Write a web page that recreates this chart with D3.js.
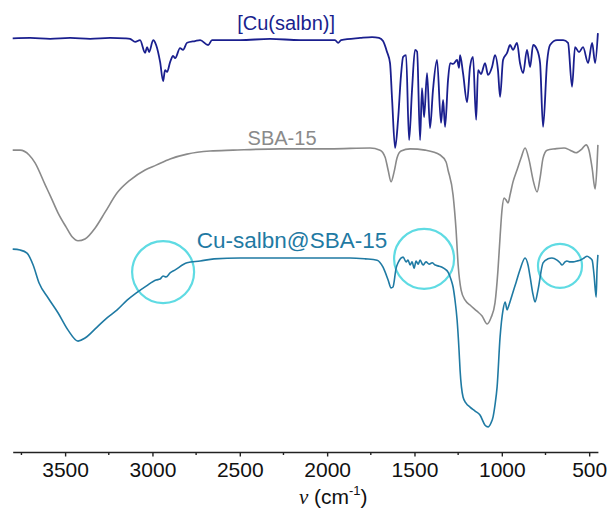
<!DOCTYPE html>
<html>
<head>
<meta charset="utf-8">
<script src="https://cdn.jsdelivr.net/npm/d3@7"></script>
<style>
  body { margin: 0; background: #fff; }
  text { font-family: "Liberation Sans", Arial, sans-serif; }
</style>
</head>
<body>
<div id="chart"></div>
<script>
// --- spectra: [wavenumber (cm-1), transmittance (a.u., stacked)] ---
const cuSalbn = [
  [3800,94.0],[3700,94.1],[3586,93.9],[3471,94.1],[3357,93.9],[3242,94.1],[3157,94.0],[3128,93.9],
  [3099,93.2],[3071,93.6],[3042,90.7],[3031,92.0],[3019,90.9],[2996,93.6],[2979,92.5],[2956,88.6],
  [2939,84.3],[2928,86.8],[2916,86.4],[2899,88.6],[2882,90.0],[2870,89.5],[2842,91.8],[2825,91.4],
  [2802,93.0],[2756,93.4],[2727,93.6],[2681,92.5],[2659,93.6],[2498,93.6],[2327,93.9],[2155,93.6],
  [1955,93.6],[1937,93.0],[1920,93.6],[1811,94.1],[1743,94.3],[1703,94.1],[1680,93.4],[1657,90.9],
  [1640,88.4],[1628,80.0],[1611,69.1],[1594,75.5],[1577,85.7],[1565,89.8],[1548,90.2],[1531,70.9],
  [1514,82.3],[1497,91.4],[1485,91.0],[1468,70.9],[1457,82.7],[1445,76.1],[1428,86.1],[1411,73.6],
  [1394,82.3],[1371,89.1],[1348,74.8],[1336,80.0],[1325,73.9],[1308,84.5],[1296,88.4],[1279,88.2],
  [1256,89.1],[1245,87.3],[1239,90.2],[1222,86.1],[1199,79.5],[1182,87.5],[1165,89.8],[1147,75.5],
  [1136,86.8],[1119,85.9],[1096,88.4],[1079,85.7],[1056,87.5],[1039,90.2],[1022,86.8],[1010,80.7],
  [993,89.1],[970,90.7],[953,92.5],[936,91.4],[913,93.0],[896,88.4],[878,86.1],[856,91.4],
  [838,87.5],[821,92.5],[798,91.4],[781,88.4],[764,73.9],[741,88.6],[724,92.5],[684,93.6],
  [649,93.6],[621,93.0],[598,83.0],[581,92.0],[558,90.9],[535,92.0],[506,88.4],[483,93.0],
  [466,88.4],[450,95.2]
];

const sba15 = [
  [3800,68.6],[3758,68.6],[3706,67.5],[3672,65.7],[3614,60.7],[3582,58.0],[3540,54.3],[3494,51.1],
  [3460,48.9],[3426,48.0],[3386,48.4],[3328,50.9],[3271,54.5],[3202,58.9],[3128,61.8],[3042,64.1],
  [2979,65.2],[2899,66.6],[2802,67.7],[2670,68.4],[2538,68.6],[2269,68.9],[1983,68.9],[1754,69.1],
  [1697,68.6],[1668,67.0],[1651,64.1],[1634,61.4],[1617,63.6],[1600,66.8],[1577,68.4],[1525,68.9],
  [1439,68.6],[1353,67.5],[1319,65.9],[1308,64.1],[1279,58.4],[1262,50.5],[1250,42.5],[1233,36.8],
  [1210,34.5],[1182,33.4],[1142,32.0],[1113,30.9],[1084,29.1],[1062,30.5],[1039,33.9],[1022,41.4],
  [1010,48.9],[999,55.0],[987,57.7],[976,57.3],[964,56.6],[953,58.4],[936,61.4],[913,64.1],
  [890,66.8],[867,69.1],[844,66.4],[821,61.8],[798,59.1],[781,62.3],[764,66.8],[741,68.6],
  [695,68.9],[644,69.1],[609,68.6],[575,68.0],[541,68.9],[518,69.8],[501,68.6],[483,64.5],
  [466,59.8],[455,65.2],[450,69.8]
];

const cuSalbnSba = [
  [3800,46.1],[3758,45.9],[3718,45.2],[3683,42.5],[3649,38.4],[3597,35.0],[3540,31.6],[3483,27.7],
  [3426,25.2],[3386,25.9],[3317,28.4],[3260,30.5],[3202,32.3],[3145,34.5],[3094,36.1],[3036,37.7],
  [2979,39.1],[2956,39.3],[2939,40.0],[2922,39.8],[2899,40.7],[2870,41.4],[2802,43.0],[2727,43.4],
  [2647,43.9],[2498,44.1],[2315,44.1],[2098,44.1],[1869,44.1],[1783,43.9],[1714,43.6],[1680,42.0],
  [1651,39.1],[1634,37.3],[1623,37.5],[1605,41.8],[1594,43.0],[1565,44.3],[1548,43.2],[1537,43.6],
  [1525,42.5],[1514,43.2],[1502,41.8],[1491,43.4],[1479,42.7],[1468,43.6],[1451,42.5],[1434,43.2],
  [1416,42.7],[1399,43.0],[1382,42.5],[1365,42.3],[1342,42.0],[1319,41.4],[1308,40.9],[1290,39.1],
  [1279,37.5],[1268,34.5],[1256,30.0],[1245,23.2],[1239,18.6],[1222,12.5],[1205,11.1],[1182,10.2],
  [1153,9.3],[1125,8.4],[1096,6.1],[1079,5.7],[1062,6.6],[1050,8.0],[1039,10.7],[1027,14.8],
  [1010,26.1],[993,32.3],[981,34.1],[970,32.3],[959,33.4],[941,35.7],[918,38.6],[896,41.4],
  [867,44.1],[850,42.5],[838,39.8],[821,35.7],[810,34.1],[793,36.8],[764,43.0],[736,43.9],
  [713,44.1],[684,43.6],[667,43.0],[655,42.5],[638,43.2],[627,43.4],[609,43.2],[592,43.2],
  [569,43.4],[552,43.6],[529,44.1],[512,44.5],[495,44.1],[483,43.6],[472,40.2],[460,35.2],
  [455,41.4],[450,44.8]
];

const majorTicks = [3500, 3000, 2500, 2000, 1500, 1000, 500];
const minorTicks = [3750, 3250, 2750, 2250, 1750, 1250, 750];

const seriesNames = ["[Cu(salbn)]", "SBA-15", "Cu-salbn@SBA-15"];
// label anchor in data units: [wavenumber, transmittance]
const labelAnchors = [[2235, 95.8], [2258, 69.8], [2201, 46.4]];
// highlighted regions on Cu-salbn@SBA-15: [wavenumber, transmittance]
const highlightCenters = [[2939, 40.9], [1445, 43.9], [667, 42.3]];

// --- setup ---
const width = 611, height = 512;
const svg = d3.select("#chart").append("svg")
  .attr("width", width)
  .attr("height", height);

const x = d3.scaleLinear().domain([3800, 450]).range([12.7, 597.9]);
const y = d3.scaleLinear().domain([0, 100]).range([452, 12]);

const colors = ["#1a1f8e", "#8a8a8a", "#1f7aa3"];
const lineWidths = [1.8, 1.6, 1.6];
const labelSizes = [20, 20, 22.5];

const line = d3.line()
  .x(d => x(d[0]))
  .y(d => y(d[1]))
  .curve(d3.curveMonotoneX);

// highlight circles (drawn under the curves)
const circleR = [31, 30, 22];
svg.append("g")
  .selectAll("circle")
  .data(highlightCenters)
  .join("circle")
  .attr("cx", d => x(d[0]))
  .attr("cy", d => y(d[1]))
  .attr("r", (d, i) => circleR[i])
  .attr("fill", "none")
  .attr("stroke", "#5fdbe3")
  .attr("stroke-width", 2.2);

// spectra
const spectra = [cuSalbn, sba15, cuSalbnSba];
svg.append("g")
  .selectAll("path")
  .data(spectra)
  .join("path")
  .attr("d", line)
  .attr("fill", "none")
  .attr("stroke", (d, i) => colors[i])
  .attr("stroke-width", (d, i) => lineWidths[i])
  .attr("stroke-linejoin", "round");

// series labels
svg.append("g")
  .selectAll("text")
  .data(seriesNames)
  .join("text")
  .attr("x", (d, i) => x(labelAnchors[i][0]))
  .attr("y", (d, i) => y(labelAnchors[i][1]))
  .attr("text-anchor", "middle")
  .attr("font-size", (d, i) => labelSizes[i])
  .attr("fill", (d, i) => colors[i])
  .text(d => d);

// === x axis ===
const axisY = y(0);
const xAxis = svg.append("g")
  .attr("transform", `translate(0,${axisY})`)
  .call(d3.axisBottom(x).tickValues(majorTicks).tickSize(4.5).tickSizeOuter(0).tickFormat(d3.format("d")));

xAxis.select(".domain").attr("stroke", "#222").attr("stroke-width", 1.6);
xAxis.selectAll(".tick line").attr("stroke", "#222").attr("stroke-width", 1.4);
xAxis.selectAll(".tick text")
  .attr("font-size", 21)
  .attr("font-family", "'Liberation Sans', Arial, sans-serif")
  .attr("fill", "#111")
  .attr("y", 25)
  .attr("dy", 0);

xAxis.append("g")
  .selectAll("line")
  .data(minorTicks)
  .join("line")
  .attr("x1", d => x(d))
  .attr("x2", d => x(d))
  .attr("y1", 0)
  .attr("y2", 3)
  .attr("stroke", "#222")
  .attr("stroke-width", 1.4);

// axis title: ν (cm-1)
const title = svg.append("text")
  .attr("x", x(1965))
  .attr("y", 504)
  .attr("text-anchor", "middle")
  .attr("font-size", 21)
  .attr("fill", "#111");
title.append("tspan").attr("font-family", "'Liberation Serif', 'Times New Roman', serif").attr("font-style", "italic").text("ν");
title.append("tspan").text(" (cm");
title.append("tspan").attr("font-size", 13).attr("dy", -9).text("-1");
title.append("tspan").attr("dy", 9).text(")");
</script>
</body>
</html>
